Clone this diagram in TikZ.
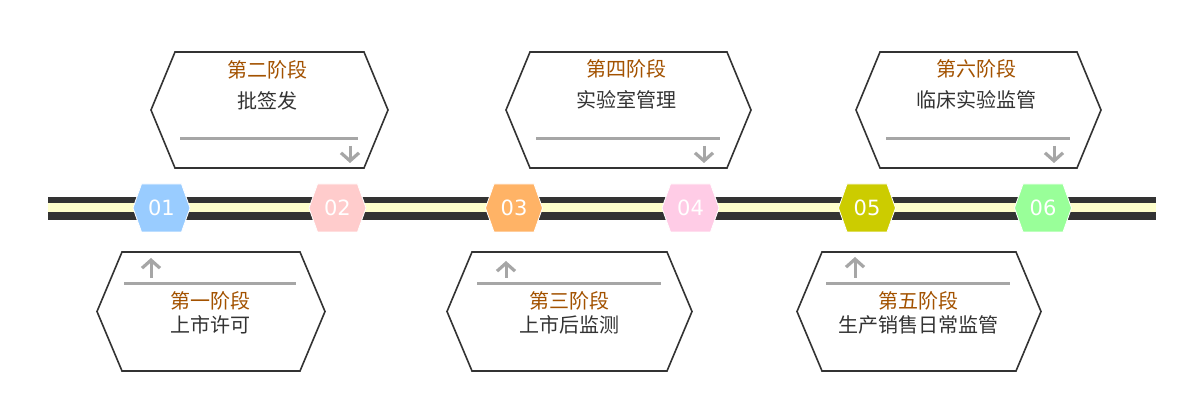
\documentclass[tikz,border=0pt]{standalone}
\usepackage{fontspec}
\setmainfont{Noto Sans CJK SC}
\newfontfamily\numfont{DejaVu Sans}
\usetikzlibrary{arrows.meta}
\definecolor{trackdark}{HTML}{333333}
\definecolor{trackcream}{HTML}{FFFFCC}
\definecolor{boxline}{HTML}{333333}
\definecolor{rulegray}{HTML}{A6A6A6}
\definecolor{titlebrown}{HTML}{A35200}
\definecolor{subgray}{HTML}{333333}
\definecolor{hexa}{HTML}{99CCFF}
\definecolor{hexb}{HTML}{FFCCCC}
\definecolor{hexc}{HTML}{FFB366}
\definecolor{hexd}{HTML}{FFCCE6}
\definecolor{hexe}{HTML}{CCCC00}
\definecolor{hexf}{HTML}{99FF99}
\begin{document}
\begin{tikzpicture}[x=1pt,y=-1pt,font=\fontsize{20}{24}\selectfont,
 stage/.style={draw=boxline,line width=1.6pt,fill=white},
 rule/.style={draw=rulegray,line width=3pt},
 hint/.style={draw=rulegray,line width=3pt,
  -{Straight Barb[length=8pt,width=18pt,line width=3.2pt]}},
 title/.style={text=titlebrown,inner sep=0pt},
 sub/.style={text=subgray,inner sep=0pt},
 num/.style={text=white,inner sep=0pt,font=\numfont\fontsize{21}{25}\selectfont}]
 \useasboundingbox (0,0) rectangle (1188,403);
 \fill[white] (0,0) rectangle (1188,403);
 % track
 \fill[trackdark] (48,197) rectangle (1156,220);
 \fill[trackcream] (48,203) rectangle (1156,212);
 % numbered hexagons
 \foreach \i/\cx/\col in {1/161.5/hexa,2/337.5/hexb,3/514/hexc,
  4/690.5/hexd,5/867/hexe,6/1043/hexf} {
  \fill[\col,draw=white,line width=0.8pt] (\cx-28.5,208) -- (\cx-20,184)
   -- (\cx+20,184) -- (\cx+28.5,208) -- (\cx+20,232) -- (\cx-20,232) -- cycle;
  \node[num] (n\i) at (\cx,208) {0\i};
 }
 % stages below the track
 \foreach \xl/\xr in {97/325,447/692,797/1041}
  \draw[stage] (\xl,311.5) -- (\xl+25,252) -- (\xr-25,252) -- (\xr,311.5)
   -- (\xr-25,371) -- (\xl+25,371) -- cycle;
 % stages above the track
 \foreach \xl/\xr in {151/388,506/751,856/1101}
  \draw[stage] (\xl,110) -- (\xl+24,52) -- (\xr-24,52) -- (\xr,110)
   -- (\xr-24,168) -- (\xl+24,168) -- cycle;
 \node[title] (t1) at (210,301) {第一阶段};
 \node[sub] (s1) at (210,325) {上市许可};
 \node[title] (t2) at (267,70) {第二阶段};
 \node[sub] (s2) at (267,101) {批签发};
 \node[title] (t3) at (569,301) {第三阶段};
 \node[sub] (s3) at (569,325) {上市后监测};
 \node[title] (t4) at (626,69) {第四阶段};
 \node[sub] (s4) at (626,100) {实验室管理};
 \node[title] (t5) at (918,301) {第五阶段};
 \node[sub] (s5) at (918,325) {生产销售日常监管};
 \node[title] (t6) at (976,69) {第六阶段};
 \node[sub] (s6) at (976,100) {临床实验监管};
 % rules and hints
 \draw[rule] (124,283) -- (296,283);
 \draw[hint] (151,278) -- (151,258);
 \draw[rule] (180,139) -- (358,139);
 \draw[hint] (350,146) -- (350,163);
 \draw[rule] (477,283) -- (661,283);
 \draw[hint] (506,278) -- (506,261);
 \draw[rule] (536,139) -- (720,139);
 \draw[hint] (704,146) -- (704,163);
 \draw[rule] (826,283) -- (1010,283);
 \draw[hint] (855,278) -- (855,257);
 \draw[rule] (886,139) -- (1070,139);
 \draw[hint] (1054,146) -- (1054,163);
\end{tikzpicture}
\end{document}
